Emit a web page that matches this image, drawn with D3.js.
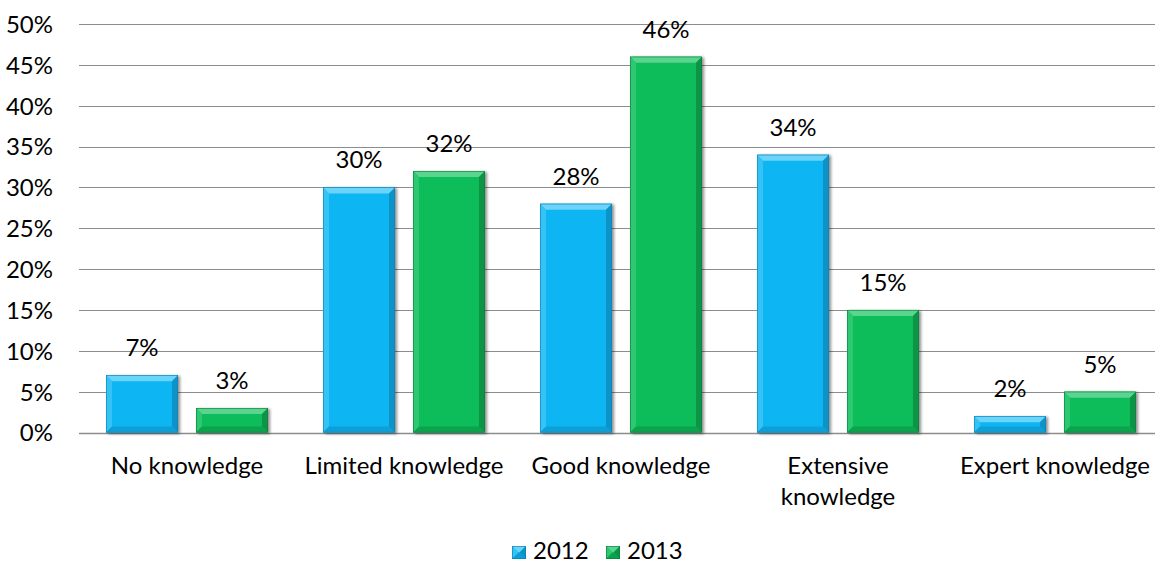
<!DOCTYPE html>
<html>
<head>
<meta charset="utf-8">
<script src="https://cdn.jsdelivr.net/npm/d3@7"></script>
<style>
  body { margin: 0; background: #fff; }
  svg text { font-family: Lato, "Open Sans", sans-serif; fill: #000; }
</style>
</head>
<body>
<div id="chart"></div>
<script>
// data
const categories = ["No knowledge", "Limited knowledge", "Good knowledge", "Extensive\nknowledge", "Expert knowledge"];
const seriesNames = ["2012", "2013"];
const values2012 = [0.07, 0.30, 0.28, 0.34, 0.02];
const values2013 = [0.03, 0.32, 0.46, 0.15, 0.05];
const yTicks = [0, 0.05, 0.10, 0.15, 0.20, 0.25, 0.30, 0.35, 0.40, 0.45, 0.50];

const width = 1155, height = 564;
const fontSize = 24;

// face / bevel colours per series
const palette = [
    {face: "#0cb5f3", top: "#6bd4fa", left: "#35c3f6", right: "#0b93c8", bottom: "#0a9fd6", stroke: "#0a7fae"},
    {face: "#0cbd5a", top: "#5ad48e", left: "#2dc872", right: "#0a9446", bottom: "#0aa24d", stroke: "#0b7a3c"}
];

const svg = d3.select("#chart").append("svg")
    .attr("width", width)
    .attr("height", height);

// soft shadow like the office bevel preset
const defs = svg.append("defs");
const shadow = defs.append("filter").attr("id", "shadow")
    .attr("x", "-10%").attr("y", "-10%").attr("width", "130%").attr("height", "130%");
shadow.append("feGaussianBlur").attr("in", "SourceAlpha").attr("stdDeviation", 1.6).attr("result", "blur");
shadow.append("feOffset").attr("dx", 1.5).attr("dy", 1).attr("result", "off");
shadow.append("feComponentTransfer").append("feFuncA").attr("type", "linear").attr("slope", 0.45);
const merge = shadow.append("feMerge");
merge.append("feMergeNode");
merge.append("feMergeNode").attr("in", "SourceGraphic");

const x = d3.scaleBand()
    .domain(categories)
    .range([78.5, 1163.5])
    .paddingInner(0.2535)
    .paddingOuter(0.12675);

const xInner = d3.scaleBand()
    .domain(seriesNames)
    .range([0, x.bandwidth()])
    .paddingInner(0.2)
    .paddingOuter(0);

const y = d3.scaleLinear()
    .domain([0, 0.5])
    .range([432.5, 24]);

// gridlines
svg.append("g")
    .selectAll("line")
    .data(yTicks)
    .join("line")
    .attr("x1", 79)
    .attr("x2", width)
    .attr("y1", d => Math.round(y(d)) + 0.5)
    .attr("y2", d => Math.round(y(d)) + 0.5)
    .attr("stroke", "#8c8c8c")
    .attr("stroke-width", d => d === 0 ? 1.3 : 1.1);

// y axis labels
const yAxis = svg.append("g")
    .attr("transform", "translate(79,0)")
    .call(d3.axisLeft(y).tickValues(yTicks).tickFormat(d3.format(".0%")).tickSize(0).tickPadding(26));
yAxis.select(".domain").remove();
yAxis.selectAll("text")
    .attr("font-size", fontSize)
    .attr("dy", "0.35em");
yAxis.attr("font-family", null);

function bevelBar(g, w, h, c) {
    const b = Math.min(6, h / 2, w / 2);
    g.append("rect")
        .attr("width", w).attr("height", h)
        .attr("fill", c.face);
    const faces = [
        {pts: [[0, 0], [w, 0], [w - b, b], [b, b]], fill: c.top},
        {pts: [[0, 0], [b, b], [b, h - b], [0, h]], fill: c.left},
        {pts: [[w, 0], [w, h], [w - b, h - b], [w - b, b]], fill: c.right},
        {pts: [[0, h], [w, h], [w - b, h - b], [b, h - b]], fill: c.bottom}
    ];
    g.selectAll("polygon")
        .data(faces)
        .join("polygon")
        .attr("points", d => d.pts.map(p => p.join(",")).join(" "))
        .attr("fill", d => d.fill);
    g.append("rect")
        .attr("x", 0.3).attr("y", 0.3)
        .attr("width", w - 0.6).attr("height", h - 0.6)
        .attr("fill", "none")
        .attr("stroke", c.stroke)
        .attr("stroke-width", 0.6);
}

// bars
const series = [values2012, values2013];
const groups = svg.append("g")
    .selectAll("g")
    .data(categories)
    .join("g")
    .attr("transform", d => `translate(${x(d)},0)`);

groups.each(function (cat, i) {
    const grp = d3.select(this);
    series.forEach((vals, s) => {
        const v = vals[i];
        const bx = xInner(seriesNames[s]);
        const by = y(v);
        const bar = grp.append("g")
            .attr("transform", `translate(${bx},${by})`)
            .attr("filter", "url(#shadow)");
        bevelBar(bar, xInner.bandwidth(), y(0) - by, palette[s]);
        grp.append("text")
            .attr("x", bx + xInner.bandwidth() / 2)
            .attr("y", by - 19)
            .attr("text-anchor", "middle")
            .attr("font-size", fontSize)
            .text(d3.format(".0%")(v));
    });
});

// category labels
svg.append("g")
    .selectAll("text")
    .data(categories)
    .join("text")
    .attr("x", d => x(d) + x.bandwidth() / 2)
    .attr("y", 474)
    .attr("text-anchor", "middle")
    .attr("font-size", fontSize)
    .each(function (d) {
        const lines = d.split("\n");
        d3.select(this).selectAll("tspan")
            .data(lines)
            .join("tspan")
            .attr("x", x(d) + x.bandwidth() / 2)
            .attr("dy", (l, j) => j === 0 ? 0 : 31)
            .text(l => l);
    });

// legend
const legendX = [512, 606];
const legend = svg.append("g");
seriesNames.forEach((name, s) => {
    const item = legend.append("g").attr("transform", `translate(${legendX[s]},546)`);
    bevelBar(item.append("g"), 14, 13, palette[s]);
    item.append("text")
        .attr("x", 21)
        .attr("y", 13)
        .attr("font-size", fontSize)
        .text(name);
});
</script>
</body>
</html>
